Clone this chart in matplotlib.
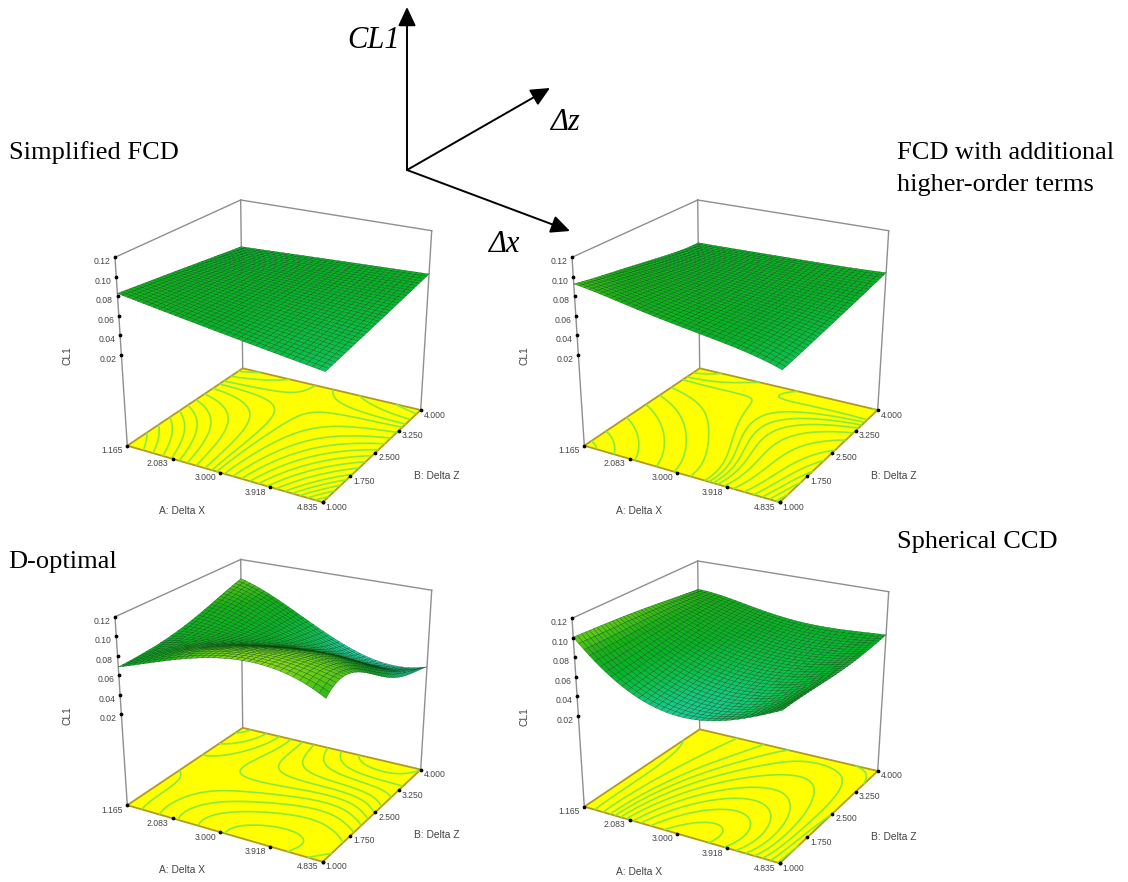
import numpy as np
import matplotlib
matplotlib.use("Agg")
import matplotlib.pyplot as plt
from matplotlib.collections import PolyCollection
from matplotlib.colors import LinearSegmentedColormap, Normalize

# ---------- data ----------
A_TICKS = [1.165, 2.083, 3.000, 3.918, 4.835]
B_TICKS = [1.000, 1.750, 2.500, 3.250, 4.000]
Z_TICKS = [0.02, 0.04, 0.06, 0.08, 0.10, 0.12]
Z_FLOOR = -0.073

# rows: B = 1 ... 4, columns: A = 1.165 ... 4.835
CL1_SIMPLIFIED = [
    [.0830, .0760, .0690, .0620, .0550],
    [.0789, .0741, .0692, .0644, .0596],
    [.0748, .0722, .0695, .0669, .0642],
    [.0706, .0702, .0697, .0693, .0688],
    [.0665, .0682, .0700, .0717, .0734],
]
CL1_HIGHER = [
    [.0927, .0850, .0765, .0690, .0567],
    [.0860, .0805, .0745, .0695, .0610],
    [.0800, .0760, .0725, .0695, .0655],
    [.0740, .0730, .0722, .0712, .0700],
    [.0710, .0715, .0722, .0730, .0748],
]
CL1_DOPT = [
    [.0685, .0860, .1010, .1050, .0870],
    [.0705, .0830, .0930, .0980, .0910],
    [.0765, .0750, .0750, .0780, .0660],
    [.0870, .0750, .0600, .0520, .0470],
    [.0980, .0780, .0520, .0340, .0375],
]
CL1_CCD = [
    [.1007, .0620, .0460, .0530, .0770],
    [.0985, .0670, .0520, .0530, .0750],
    [.0955, .0730, .0600, .0590, .0720],
    [.0915, .0780, .0670, .0640, .0715],
    [.0876, .0810, .0725, .0705, .0735],
]
LEVELS_SIMPLIFIED = [.056, .057, .058, .059, .060, .0612, .0624, .0636, .0648, .066, .0672, .0684, .0695,
                     .0702, .0712, .0725, .0738, .075, .0762, .0775, .079, .0805]
LEVELS_HIGHER = [.058, .060, .062, .064, .066, .068, .0695, .0705, .0712, .0718, .0724, .0745, .077, .080, .084, .088, .091]
LEVELS_DOPT = [.038, .045, .052, .060, .067, .074, .081, .088, .095, .102]
LEVELS_CCD = [.048, .052, .056, .060, .064, .068, .072, .076, .082, .090]
PANEL_DATA = [CL1_SIMPLIFIED, CL1_HIGHER, CL1_DOPT, CL1_CCD]
PANEL_LEVELS = [LEVELS_SIMPLIFIED, LEVELS_HIGHER, LEVELS_DOPT, LEVELS_CCD]
PANEL_OFFSETS = [(0, 0), (457, 0), (0, 359.5), (457, 361)]

# ---------- layout (pixels of the first panel) ----------
FLOOR = np.array([(127.3, 445.7), (322.7, 502.3), (420.7, 410.0), (242.7, 368.3)])
TOP = np.array([(115.0, 257.3), (326.7, 305.3), (431.7, 230.7), (240.7, 200.0)])
UNIT = np.array([(0, 0), (1, 0), (1, 1), (0, 1)], float)


def homography(src, dst):
    M, r = [], []
    for (x, y), (X, Y) in zip(src, dst):
        M.append([x, y, 1, 0, 0, 0, -x * X, -y * X]); r.append(X)
        M.append([0, 0, 0, x, y, 1, -x * Y, -y * Y]); r.append(Y)
    return np.append(np.linalg.solve(np.array(M), np.array(r)), 1).reshape(3, 3)


H_FLOOR = homography(UNIT, FLOOR)
H_TOP = homography(UNIT, TOP)


def apply_h(H, u, v):
    w = H[2, 0] * u + H[2, 1] * v + H[2, 2]
    return (H[0, 0] * u + H[0, 1] * v + H[0, 2]) / w, (H[1, 0] * u + H[1, 1] * v + H[1, 2]) / w


def project(u, v, z, off):
    t = (np.asarray(z, float) - Z_FLOOR) / (0.12 - Z_FLOOR)
    x0, y0 = apply_h(H_FLOOR, u, v)
    x1, y1 = apply_h(H_TOP, u, v)
    return x0 + (x1 - x0) * t + off[0], y0 + (y1 - y0) * t + off[1]


def refine(values, n):
    """Smooth mesh through the values read on the 5 x 5 grid."""
    nodes = np.linspace(0, 1, 5)
    s = np.linspace(0, 1, n)
    L = np.ones((n, 5))
    for j in range(5):
        for k in range(5):
            if j != k:
                L[:, j] *= (s - nodes[k]) / (nodes[j] - nodes[k])
    return s, L @ np.array(values) @ L.T


surface_norm = Normalize(0.03, 0.105)
surface_cmap = LinearSegmentedColormap.from_list("surf", [
    (surface_norm(0.030), (0.18, 0.84, 0.80)),
    (surface_norm(0.045), (0.10, 0.80, 0.60)),
    (surface_norm(0.058), (0.05, 0.76, 0.30)),
    (surface_norm(0.070), (0.02, 0.71, 0.15)),
    (surface_norm(0.085), (0.08, 0.70, 0.08)),
    (surface_norm(0.105), (0.52, 0.84, 0.10)),
])

plt.rcParams["font.family"] = ["Liberation Sans", "DejaVu Sans"]
fig = plt.figure(figsize=(11.28, 8.82), dpi=100, facecolor="white")
ax = fig.add_axes([0, 0, 1, 1])

GREY = "#8f8f8f"
LABEL = "#444444"

for values, off, levels in zip(PANEL_DATA, PANEL_OFFSETS, PANEL_LEVELS):
    # walls
    for i in (0, 2, 3):
        u, v = UNIT[i]
        xs, ys = project(np.array([u, u]), np.array([v, v]), [Z_FLOOR, 0.12], off)
        ax.plot(xs, ys, color=GREY, lw=1.0, zorder=1)
    for (a, b) in ((0, 3), (3, 2)):
        xs, ys = project(UNIT[[a, b], 0], UNIT[[a, b], 1], [0.12, 0.12], off)
        ax.plot(xs, ys, color=GREY, lw=1.0, zorder=1)

    # floor with contour lines
    fx, fy = project(UNIT[:, 0], UNIT[:, 1], np.full(4, Z_FLOOR), off)
    ax.fill(fx, fy, facecolor="#ffff00", edgecolor="#b09a20", lw=1.3, zorder=2, joinstyle="round")
    s, fine = refine(values, 160)
    U, V = np.meshgrid(s, s)
    PX, PY = project(U, V, np.full_like(U, Z_FLOOR), off)
    ax.contour(PX, PY, fine, levels=levels, colors="#8aea3c", linewidths=1.2, zorder=3)

    # surface, painted from back corner to front corner
    s, mesh = refine(values, 37)
    U, V = np.meshgrid(s, s)
    SX, SY = project(U, V, mesh, off)
    quads, depth, zmean = [], [], []
    for j in range(36):
        for i in range(36):
            quads.append([(SX[j, i], SY[j, i]), (SX[j, i + 1], SY[j, i + 1]),
                          (SX[j + 1, i + 1], SY[j + 1, i + 1]), (SX[j + 1, i], SY[j + 1, i])])
            depth.append(i - j)
            zmean.append(mesh[j:j + 2, i:i + 2].mean())
    order = np.argsort(depth, kind="stable")
    ax.add_collection(PolyCollection([quads[k] for k in order],
                                     facecolors=surface_cmap(surface_norm(np.array(zmean)[order])),
                                     edgecolors="#003a08", linewidths=0.2, zorder=4))

    # ticks and tick labels
    for k, (a, b) in enumerate(zip(A_TICKS, B_TICKS)):
        ua = (a - A_TICKS[0]) / (A_TICKS[-1] - A_TICKS[0])
        x, y = project(ua, 0.0, Z_FLOOR, off)
        ax.plot(x, y, "o", ms=1.7, color="black", zorder=5)
        ax.text(x - 15, y + 5, f"{a:.3f}", fontsize=6.2, color=LABEL, ha="center", va="center", zorder=6)
        vb = (b - B_TICKS[0]) / (B_TICKS[-1] - B_TICKS[0])
        x, y = project(1.0, vb, Z_FLOOR, off)
        ax.plot(x, y, "o", ms=1.7, color="black", zorder=5)
        ax.text(x + 14, y + 5, f"{b:.3f}", fontsize=6.2, color=LABEL, ha="center", va="center", zorder=6)
    for z in Z_TICKS:
        x, y = project(0.0, 0.0, z, off)
        ax.plot(x, y, "o", ms=1.7, color="black", zorder=5)
        ax.text(x - 13, y + 4.3, f"{z:.2f}", fontsize=6.2, color=LABEL, ha="center", va="center", zorder=6)

    ax.text(181.7 + off[0], 510.7 + off[1], "A: Delta X", fontsize=7.4, color=LABEL, ha="center", va="center")
    ax.text(436.7 + off[0], 476 + off[1], "B: Delta Z", fontsize=7.4, color=LABEL, ha="center", va="center")
    ax.text(67.3 + off[0], 355.7 + off[1], "CL1", fontsize=7.4, color=LABEL, rotation=90, ha="center", va="center")

# panel captions
SERIF = ["Liberation Serif", "DejaVu Serif"]
for x, y, txt in [(9, 153, "Simplified FCD"), (897, 153, "FCD with additional"),
                  (897, 185, "higher-order terms"), (8, 562, "D-optimal"), (897, 542, "Spherical CCD")]:
    ax.text(x, y, txt, fontsize=19, family=SERIF, color="black", ha="left", va="center")

# coordinate system sketch
ORIGIN = (407, 170)
for end in [(407, 7), (550, 88), (570, 231)]:
    ax.annotate("", xy=end, xytext=ORIGIN, zorder=7,
                arrowprops=dict(arrowstyle="-|>,head_length=1.15,head_width=0.54", color="black", lw=1.4,
                                shrinkA=0, shrinkB=0))
for x, y, txt in [(347, 40, "CL1"), (550, 122, "Δz"), (488, 244, "Δx")]:
    ax.text(x, y, txt, fontsize=22, family=SERIF, style="italic", color="black", ha="left", va="center", zorder=7)

ax.set_xlim(0, 1128)
ax.set_ylim(882, 0)
ax.axis("off")
fig.savefig("out.png", dpi=100, facecolor="white")
